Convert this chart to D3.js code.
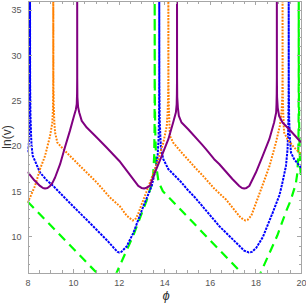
<html>
<head>
    <style>
        body {
            margin: 0;
            font-family: "Liberation Sans", Arial, sans-serif;
            background: white;
        }
    </style>
    <script src="https://cdn.jsdelivr.net/npm/d3@7"></script>
</head>
<body>
    <svg id="chart"></svg>
    <script>
    // points, [phi, ln(v)]
    // values above the top (40) are the spikes, they get clipped
    let bluePts = [
        [8.0,19.3],[8.06,20.5],[8.09,22],[8.105,25],[8.11,27.5],[8.11,40],[8.115,27],[8.13,23.5],[8.16,21],
        [8.18,20],[8.23,18.9],[8.33,18.34],[8.55,17.06],[8.84,16.22],[9.13,15.58],[9.72,14.05],[10.89,11.1],
        [11.5,9.55],[11.8,8.7],[11.95,8.3],[12.03,8.23],[12.12,8.3],[12.35,8.9],[12.64,10.37],[13.08,13.31],
        [13.45,15.58],[13.62,17.43],[13.71,18.9],[13.75,20.74],[13.77,23],[13.78,27.5],[13.78,40],[13.785,27],
        [13.8,23],[13.83,21],[13.86,19.64],[13.96,18.53],[14.18,17.43],[14.76,15.96],[14.97,15.3],[15.35,14.3],
        [16.43,11.1],[17.2,9.2],[17.5,8.45],[17.7,8.24],[17.85,8.3],[18.04,8.75],[18.33,9.95],[18.77,12.7],
        [19.06,14.6],[19.19,16.0],[19.34,17.79],[19.41,19.64],[19.44,22],[19.455,25],[19.46,27.5],[19.46,40],
        [19.465,27],[19.48,23],[19.51,21],[19.56,19.27],[19.7,18.53],[20.0,17.6]
    ]

    let orangePts = [
        [8.0,13.75],[8.11,14.3],[8.33,15.58],[8.55,17.43],[8.77,18.9],[8.99,21.1],[9.09,22.58],[9.115,24],
        [9.125,25.5],[9.13,27.5],[9.13,40],[9.135,27],[9.15,24.5],[9.18,22.5],[9.21,21.48],[9.31,20.37],
        [9.57,19.64],[10.3,17.79],[11.04,15.96],[11.62,14.3],[12.06,13.31],[12.35,12.3],[12.5,12.0],[12.61,11.77],
        [12.72,11.85],[12.84,12.4],[13.0,13.5],[13.23,15.0],[13.45,16.5],[13.74,18.53],[13.96,20.37],[14.11,22.2],
        [14.15,23.8],[14.17,25.5],[14.18,27.5],[14.18,40],[14.185,27],[14.2,24.5],[14.23,22.3],[14.25,21.1],
        [14.39,20.37],[14.76,19.27],[15.35,17.62],[15.7,16.69],[16.19,15.3],[16.72,14.05],[17.31,12.21],
        [17.45,11.9],[17.55,11.77],[17.66,11.85],[17.82,12.3],[18.18,14.75],[18.62,17.79],[18.9,20.37],
        [19.07,22.2],[19.15,23.8],[19.18,25.5],[19.19,27.5],[19.19,40],[19.195,27],[19.21,24.5],[19.24,22.3],
        [19.26,21.48],[19.41,20.74],[19.7,19.82],[20.0,19.1]
    ]

    let purplePts = [
        [8.0,17.13],[8.3,16.2],[8.55,15.58],[8.68,15.35],[8.77,15.3],[8.88,15.36],[8.99,15.58],[9.1,15.95],
        [9.21,16.51],[9.43,17.98],[9.64,19.82],[9.86,21.66],[10.04,23.31],[10.12,24.0],[10.16,24.6],[10.175,25.8],
        [10.18,27.5],[10.18,40],[10.183,27.5],[10.19,25.4],[10.22,24.3],[10.27,23.69],[10.38,22.76],[10.6,22.03],
        [11.04,20.93],[11.47,19.82],[12.03,18.34],[12.42,17.06],[12.86,15.58],[13.0,15.36],[13.12,15.3],
        [13.22,15.38],[13.37,15.58],[13.59,17.06],[13.89,18.9],[14.18,20.74],[14.39,22.58],[14.51,23.69],
        [14.545,24.6],[14.555,25.8],[14.56,27.5],[14.56,40],[14.563,27.5],[14.57,25.4],[14.6,24.2],[14.64,23.31],
        [14.76,22.58],[15.05,21.84],[15.64,20.19],[15.83,19.64],[16.19,18.53],[16.41,18.0],[17.0,16.32],
        [17.29,15.58],[17.41,15.35],[17.51,15.3],[17.61,15.36],[17.73,15.58],[18.02,17.06],[18.32,18.9],
        [18.61,20.74],[18.82,22.58],[18.91,23.69],[18.925,24.6],[18.935,25.8],[18.94,27.5],[18.94,40],
        [18.943,27.5],[18.95,25.4],[18.98,24.2],[19.04,23.31],[19.19,22.58],[19.48,21.84],[20.0,20.4]
    ]

    let greenPts = [
        [8.0,13.86],[11.03,6.0],[11.2,5.55],[11.85,5.6],[11.91,6.0],[12.64,10.1],[13.23,14.0],[13.45,15.8],
        [13.52,17.0],[13.56,19],[13.575,22],[13.58,27.5],[13.58,40],[13.585,27],[13.6,22],[13.65,17.8],
        [13.75,16.0],[13.94,15.0],[17.38,6.0],[17.55,5.55],[18.15,5.55],[18.23,6.0],[18.96,10.1],[19.35,12.8],
        [19.55,14.0],[19.77,15.8],[19.84,17.0],[19.88,19],[19.895,22],[19.9,27.5],[19.9,40],[19.905,27],
        [19.92,22],[19.96,17.6],[20.0,16.8]
    ]

    let xTicks = [8, 10, 12, 14, 16, 18, 20]
    let yTicks = [10, 15, 20, 25, 30, 35]

    let width = 306
    let height = 303
    let margin = {left: 27.5, right: 5, top: 1, bottom: 30.3}

    let svg = d3.select("#chart")
        .attr("width", width)
        .attr("height", height)

    let x = d3.scaleLinear().domain([8, 20]).range([margin.left, width - margin.right])
    let y = d3.scaleLinear().domain([6, 36]).range([height - margin.bottom, margin.top])

    svg.append("clipPath").attr("id", "clip")
        .append("rect")
        .attr("x", x(8)).attr("y", y(36))
        .attr("width", x(20) - x(8)).attr("height", y(6) - y(36))

    let line = d3.line()
        .x(d => x(d[0]))
        .y(d => y(d[1]))

    let series = [
        {pts: greenPts, color: "#00ff00", dash: "9,6", w: 2.2},
        {pts: bluePts, color: "#0000ff", dash: "2.5,1", w: 2},
        {pts: orangePts, color: "#ff8000", dash: "1.8,1.4", w: 2},
        {pts: purplePts, color: "#800080", dash: null, w: 2}
    ]

    let plot = svg.append("g").attr("clip-path", "url(#clip)")
    for (let s of series) {
        plot.append("path")
            .attr("d", line(s.pts))
            .attr("fill", "none")
            .attr("stroke", s.color)
            .attr("stroke-width", s.w)
            .attr("stroke-dasharray", s.dash)
            .attr("stroke-linejoin", "round")
    }

    // frame with ticks on every side, pointing inwards
    let frameColor = "#a6a6a6"
    let xMinor = d3.range(8, 20.01, 0.5).filter(v => !xTicks.includes(v))
    let yMinor = d3.range(6, 36.01, 1).filter(v => !yTicks.includes(v))

    let axB = d3.axisBottom(x).tickValues(xTicks).tickSize(-4).tickPadding(7).tickFormat(d3.format("d"))
    let axL = d3.axisLeft(y).tickValues(yTicks).tickSize(-4).tickPadding(6).tickFormat(d3.format("d"))
    let axT = d3.axisTop(x).tickValues(xTicks).tickSize(-4).tickFormat("")
    let axR = d3.axisRight(y).tickValues(yTicks).tickSize(-4).tickFormat("")

    let gB = svg.append("g").attr("transform", `translate(0,${y(6)})`).call(axB)
    let gL = svg.append("g").attr("transform", `translate(${x(8)},0)`).call(axL)
    let gT = svg.append("g").attr("transform", `translate(0,${y(36)})`).call(axT)
    let gR = svg.append("g").attr("transform", `translate(${x(20)},0)`).call(axR)

    svg.append("g").attr("transform", `translate(0,${y(6)})`)
        .call(d3.axisBottom(x).tickValues(xMinor).tickSize(-2.5).tickFormat(""))
    svg.append("g").attr("transform", `translate(0,${y(36)})`)
        .call(d3.axisTop(x).tickValues(xMinor).tickSize(-2.5).tickFormat(""))
    svg.append("g").attr("transform", `translate(${x(8)},0)`)
        .call(d3.axisLeft(y).tickValues(yMinor).tickSize(-2.5).tickFormat(""))
    svg.append("g").attr("transform", `translate(${x(20)},0)`)
        .call(d3.axisRight(y).tickValues(yMinor).tickSize(-2.5).tickFormat(""))

    svg.selectAll(".domain, .tick line")
        .attr("stroke", frameColor)
        .attr("shape-rendering", "crispEdges")
    svg.selectAll(".tick text")
        .attr("fill", "#555")
        .style("font-size", "9px")
        .style("font-family", "Liberation Sans, Arial, sans-serif")

    // axis labels
    svg.append("text")
        .attr("transform", `translate(11,${137}) rotate(-90)`)
        .attr("text-anchor", "middle")
        .attr("fill", "#333")
        .style("font-size", "12px")
        .text("ln(v)")

    svg.append("text")
        .attr("x", 166)
        .attr("y", 300)
        .attr("text-anchor", "middle")
        .attr("fill", "#333")
        .style("font-size", "13px")
        .style("font-style", "italic")
        .text("ϕ")
    </script>
</body>
</html>
